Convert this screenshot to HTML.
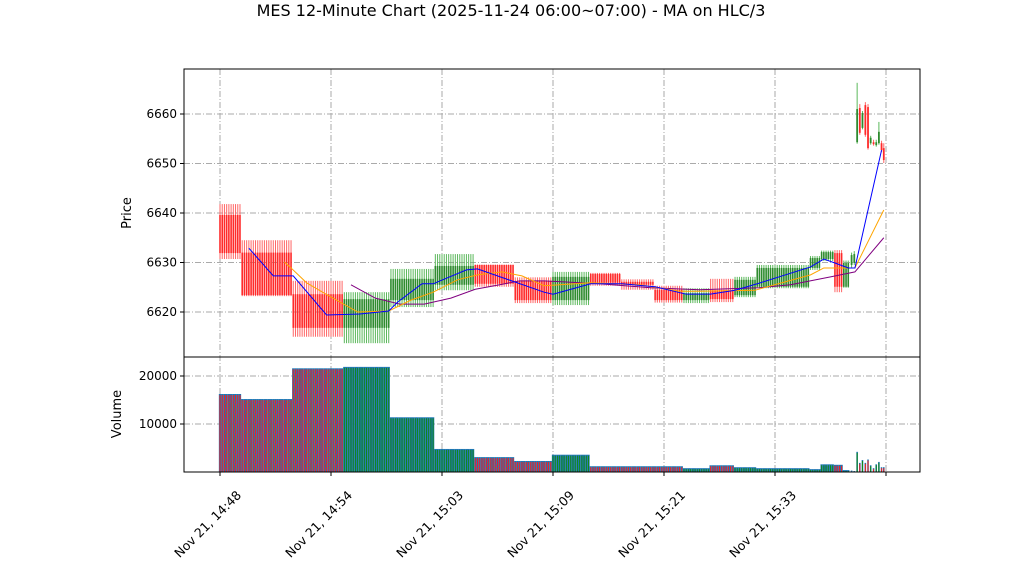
<!DOCTYPE html>
<html><head><meta charset="utf-8"><style>
body{margin:0;background:#fff;font-family:"Liberation Sans","DejaVu Sans",sans-serif;}
svg text{font-family:"DejaVu Sans","Liberation Sans",sans-serif;}
</style></head><body>
<svg id="c" width="1022" height="575" viewBox="0 0 1022 575" xmlns="http://www.w3.org/2000/svg">
<text x="511" y="16" text-anchor="middle" font-size="16">MES 12-Minute Chart (2025-11-24 06:00~07:00) - MA on HLC/3</text>
<g id="grid"></g><g id="marks"></g><g id="axes"></g>
</svg>
<script>
// blocks: start index, end index, open, high, low, close, volume
const blockStart=[0,10,33,56,77,97,115,133,150,167,181,196,209,221,232,242,266,271,277,281];
const blockEnd  =[10,33,56,77,97,115,133,150,167,181,196,209,221,232,242,266,271,277,281,284];
const blockOpen =[6639.6,6632,6623.6,6616.8,6622.4,6625.5,6629.5,6626.3,6622.4,6627.7,6626.1,6624.5,6622.4,6624.4,6623.4,6625.1,6628.9,6630.7,6631.9,6625.1];
const blockHigh =[6641.8,6634.5,6626.3,6624.0,6628.7,6631.7,6629.6,6627.0,6628.1,6627.9,6626.6,6625.3,6624.8,6626.7,6627.1,6629.5,6631.3,6632.4,6632.5,6630.4];
const blockLow  =[6630.7,6623.2,6615.0,6613.7,6621.0,6624.4,6625.1,6621.8,6621.4,6625.3,6624.5,6621.9,6621.8,6622.0,6623.0,6624.8,6628.5,6630.3,6624.0,6624.9];
const blockClose=[6631.9,6623.4,6616.8,6622.6,6626.7,6629.3,6625.7,6622.4,6627.1,6625.9,6625.5,6622.4,6623.8,6622.6,6626.5,6628.9,6630.9,6632.1,6625.1,6629.9];
const blockVol  =[16250,15200,21600,21900,11400,4800,3100,2300,3600,1200,1200,1200,800,1400,1000,800,600,1600,1500,400];
// individual candles at the end
const candIdx  =[284.5,285.7,287,288.2,289.4,290.7,291.9,293.1,294.4,295.6,296.8,298,299];
const candOpen =[6629.5,6629.9,6654.3,6661.2,6657.2,6661.8,6661.4,6654.1,6654.3,6653.7,6654.1,6654.1,6653.1];
const candHigh =[6632.0,6632.3,6666.3,6662.0,6660.6,6662.4,6662.0,6655.6,6654.8,6654.8,6658.4,6654.6,6654.1];
const candLow  =[6629.0,6629.5,6654.0,6655.8,6656.9,6655.4,6652.8,6653.8,6653.6,6653.4,6653.8,6652.3,6650.1];
const candClose=[6631.5,6631.7,6661.0,6656.2,6660.2,6655.8,6653.1,6655.2,6653.9,6654.3,6656.4,6652.7,6650.7];
const candVol  =[300,200,4200,1900,2500,1900,2600,1400,800,1600,2100,1000,1000];
// moving averages: index, value
const maBlueX=[13,24,33,48,63,76,80,91,96,111,116,146,150,167,181,196,210,221,232,242,266,272,277,283,286,298];
const maBlueY=[6632.9,6627.3,6627.3,6619.4,6619.6,6620.2,6622.0,6625.7,6625.7,6628.5,6628.7,6624.0,6623.6,6625.7,6625.7,6625.1,6623.6,6623.6,6624.4,6625.7,6629.1,6630.7,6629.9,6628.9,6628.9,6652.7];
const maOrangeX=[29,32,39,47,62,76,86,96,107,116,127,136,146,167,189,207,216,241,266,272,283,286,299];
const maOrangeY=[6630.1,6628.9,6625.9,6623.8,6620.0,6620.2,6622.4,6624.0,6626.5,6627.5,6628.1,6627.3,6625.3,6625.9,6625.5,6624.2,6624.2,6624.4,6627.5,6628.9,6628.9,6628.9,6640.6];
const maPurpleX=[59,70,81,92,104,115,126,135,146,171,194,216,243,257,275,286,299];
const maPurpleY=[6625.5,6622.8,6621.6,6621.6,6622.8,6624.6,6625.5,6626.3,6626.3,6625.7,6624.9,6624.5,6624.9,6625.5,6627.1,6628.1,6635.0];
const tickIdx=[0,50,100,150,200,250,300];
const tickLabels=["Nov 21, 14:48","Nov 21, 14:54","Nov 21, 15:03","Nov 21, 15:09","Nov 21, 15:21","Nov 21, 15:33",""];
const priceTicks=[6620,6630,6640,6650,6660];
const volTicks=[10000,20000];

const NS="http://www.w3.org/2000/svg";
const L=184,R=920,PT=69,PB=357,VB=472;
const x=i=>220+i*2.22;
const yP=p=>114+(6660-p)*4.95;
const yV=v=>472-v*0.0048;
function mk(tag,attrs,parent){const e=document.createElementNS(NS,tag);for(const k in attrs)e.setAttribute(k,attrs[k]);document.getElementById(parent).appendChild(e);return e;}
const DASH="6,2,1,2";
tickIdx.forEach(t=>{
 const g=mk('line',{x1:x(t),x2:x(t),y1:PT,y2:VB,stroke:'#aaa','stroke-dasharray':DASH,'stroke-width':1},'grid');
 
 
});
priceTicks.forEach(p=>{
 const g=mk('line',{x1:L,x2:R,y1:yP(p),y2:yP(p),stroke:'#aaa','stroke-dasharray':DASH},'grid');
 
 
});
volTicks.forEach(v=>{
 const g=mk('line',{x1:L,x2:R,y1:yV(v),y2:yV(v),stroke:'#aaa','stroke-dasharray':DASH},'grid');
 
 
});
function candle(i,o,h,l,c,v,w,bw){
 const up=c>=o,col=up?'#2e8b2e':'#ff2a2a',wc=up?'#5cb85c':'#ff6666';
 const wk=mk('line',{x1:x(i),x2:x(i),y1:yP(h),y2:yP(l),stroke:wc,'stroke-width':1},'marks');
 
 
 const t=Math.min(yP(o),yP(c)),hh=Math.max(1,Math.abs(yP(o)-yP(c)));
 const b=mk('rect',{x:x(i)-w/2,y:t,width:w,height:hh,fill:col},'marks');
 
 
 const bg=mk('rect',{x:x(i)-bw/2,y:yV(v),width:bw,height:VB-yV(v),fill:'#1f77b4'},'marks');
 
 
 const vb=mk('rect',{x:x(i)-0.5,y:yV(v)+1,width:1,height:Math.max(0,VB-yV(v)-1),fill:up?'#118811':'#ff1a1a'},'marks');
 
 
}
for(let b=0;b<blockStart.length;b++){
 for(let i=blockStart[b];i<blockEnd[b];i++)candle(i,blockOpen[b],blockHigh[b],blockLow[b],blockClose[b],blockVol[b],1.6,2.3);
}
for(let k=0;k<candIdx.length;k++)candle(candIdx[k],candOpen[k],candHigh[k],candLow[k],candClose[k],candVol[k],1.8,1.6);
function ma(xs,ys,col,name){
 const pts=xs.map((v,i)=>x(v)+','+yP(ys[i])).join(' ');
 const p=mk('polyline',{points:pts,fill:'none',stroke:col,'stroke-width':1},'marks');
 
 
}
ma(maPurpleX,maPurpleY,'purple','ma-purple-line');
ma(maOrangeX,maOrangeY,'orange','ma-orange-line');
ma(maBlueX,maBlueY,'blue','ma-blue-line');
const f1=mk('rect',{x:L,y:PT,width:R-L,height:PB-PT,fill:'none',stroke:'#000','stroke-width':1},'axes');


const f2=mk('rect',{x:L,y:PB,width:R-L,height:VB-PB,fill:'none',stroke:'#000','stroke-width':1},'axes');


priceTicks.forEach(p=>{
 const tk=mk('line',{x1:L-4,x2:L,y1:yP(p),y2:yP(p),stroke:'#000'},'axes');
 
 
 const t=mk('text',{x:L-7,y:yP(p)+4,'text-anchor':'end','font-size':12},'axes');t.textContent=p;
 
 
});
volTicks.forEach(v=>{
 const tk=mk('line',{x1:L-4,x2:L,y1:yV(v),y2:yV(v),stroke:'#000'},'axes');
 
 
 const t=mk('text',{x:L-7,y:yV(v)+4,'text-anchor':'end','font-size':12},'axes');t.textContent=v;
 
 
});
tickIdx.forEach((ti,k)=>{
 const tk=mk('line',{x1:x(ti),x2:x(ti),y1:VB,y2:VB+4,stroke:'#000'},'axes');
 
 
 const ax=x(ti)+22,ay=VB+24;
 const t=mk('text',{x:ax,y:ay,'text-anchor':'end','font-size':12.5,transform:`rotate(-45 ${ax} ${ay})`},'axes');t.textContent=tickLabels[k];
 
 
});
const yl=mk('text',{x:131,y:213,'text-anchor':'middle','font-size':13,transform:'rotate(-90 131 213)'},'axes');yl.textContent='Price';


const vl=mk('text',{x:121,y:414,'text-anchor':'middle','font-size':13,transform:'rotate(-90 121 414)'},'axes');vl.textContent='Volume';


</script>
</body></html>
